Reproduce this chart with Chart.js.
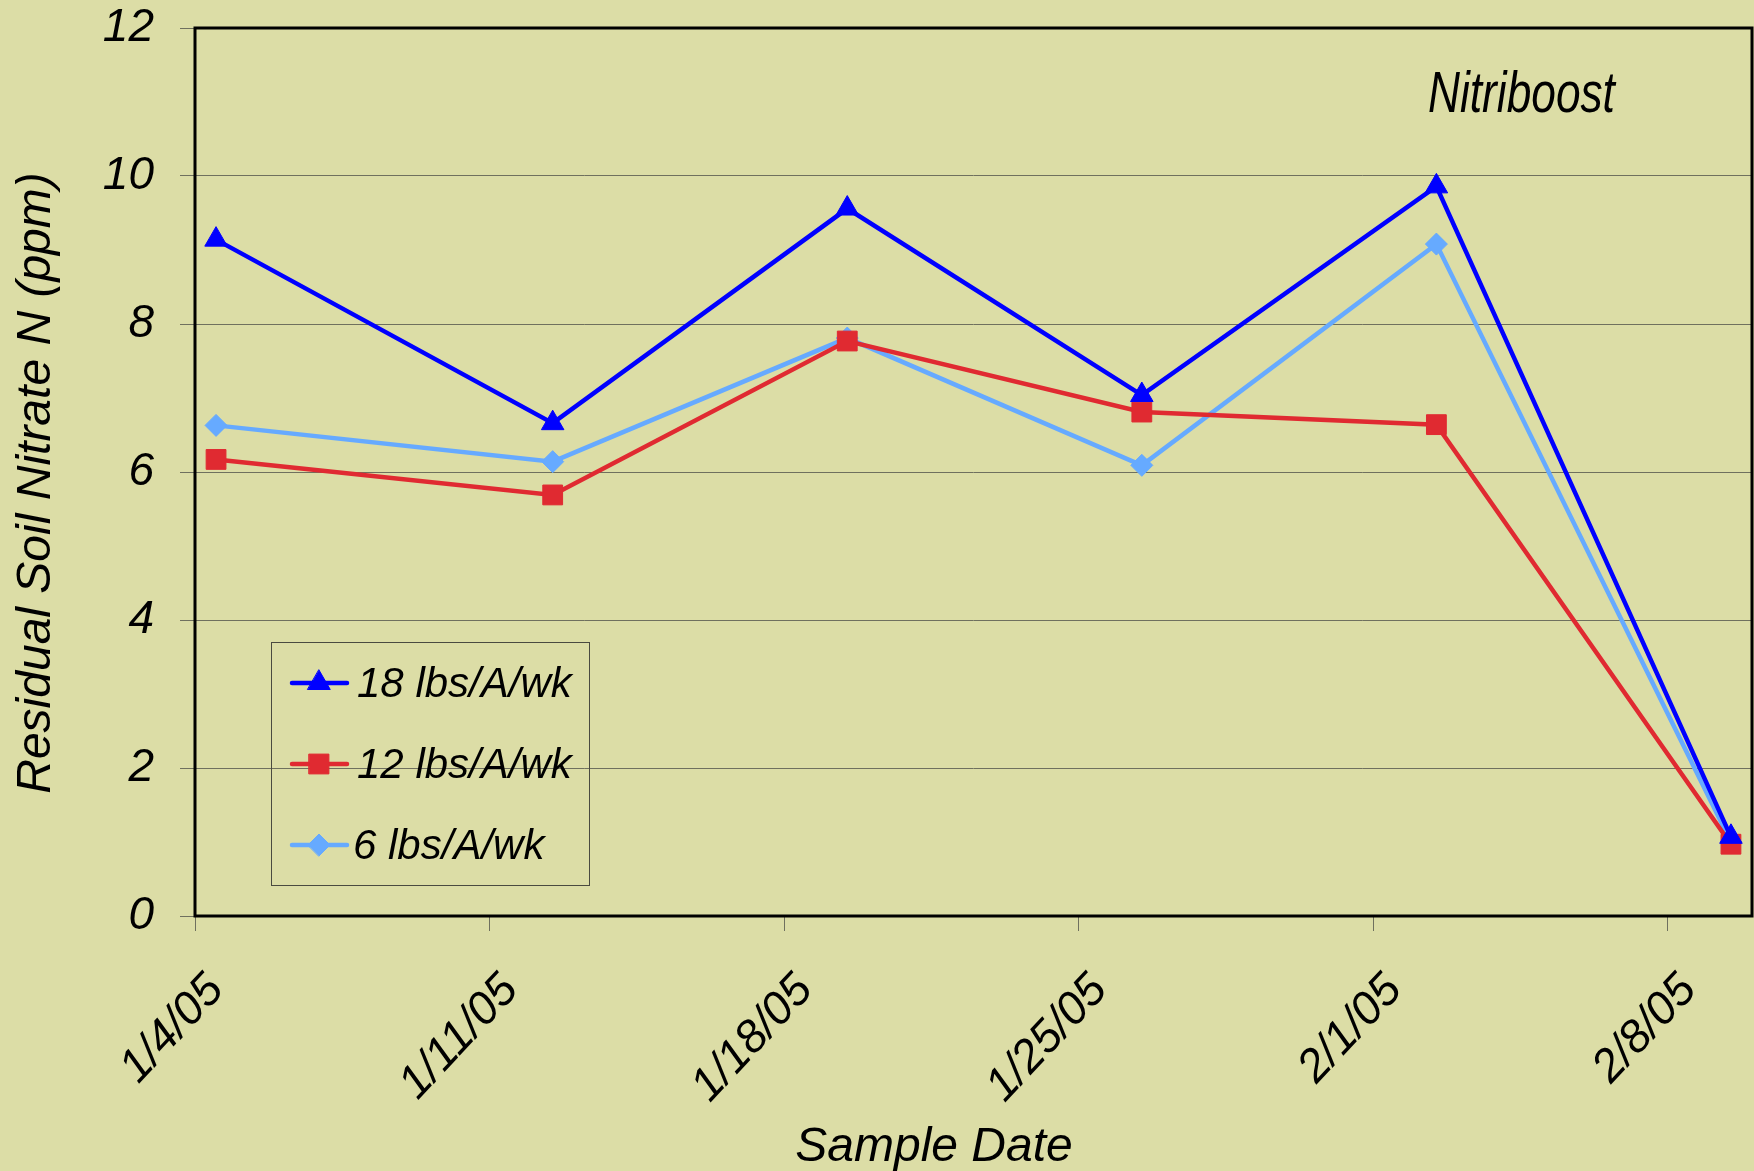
<!DOCTYPE html>
<html>
<head>
<meta charset="utf-8">
<title>Residual Soil Nitrate N - Nitriboost</title>
<script src="https://cdn.jsdelivr.net/npm/chart.js@4.4.1/dist/chart.umd.min.js"></script>
<style>
    html, body { margin: 0; padding: 0; background: #DCDDA6; }
    #wrap { width: 1754px; height: 1171px; }
</style>
</head>
<body>
<div id="wrap"><canvas id="nitrate-chart" width="1754" height="1171"></canvas></div>
<script>
    // ── data ────────────────────────────────────────────────
    const AXIS_START = [2005, 0, 4];      // 1/4/05, first day on the axis
    const AXIS_DAYS = 37;                 // 1/4/05 .. 2/9/05, one slot per day
    const TICK_STEP_DAYS = 7;

    const sampleDates = ['2005-01-04', '2005-01-12', '2005-01-19', '2005-01-26', '2005-02-02', '2005-02-09'];
    const seriesNames = ['18 lbs/A/wk', '12 lbs/A/wk', '6 lbs/A/wk'];
    const rate18 = [9.14, 6.66, 9.56, 7.04, 9.86, 1.07];
    const rate12 = [6.17, 5.69, 7.77, 6.81, 6.64, 0.97];
    const rate6 = [6.63, 6.14, 7.81, 6.09, 9.08, 1.00];
    const yTickValues = [0, 2, 4, 6, 8, 10, 12];

    const noteText = 'Nitriboost';
    const xTitle = 'Sample Date';
    const yTitle = 'Residual Soil Nitrate N (ppm)';

    // ── helpers ─────────────────────────────────────────────
    const DAY_MS = 86400000;
    const startUtc = Date.UTC(AXIS_START[0], AXIS_START[1], AXIS_START[2]);

    // Excel date axis: each point sits in the middle of its day slot
    function dayPosition(iso) {
        const p = iso.split('-').map(Number);
        return (Date.UTC(p[0], p[1] - 1, p[2]) - startUtc) / DAY_MS + 0.5;
    }

    function dayLabel(offset) {
        const d = new Date(startUtc + offset * DAY_MS);
        return (d.getUTCMonth() + 1) + '/' + d.getUTCDate() + '/' + String(d.getUTCFullYear()).slice(2);
    }

    function toPoints(values) {
        return values.map(function (v, i) { return { x: dayPosition(sampleDates[i]), y: v }; });
    }

    const SANS = "'Liberation Sans', Arial, sans-serif";
    const GRID = '#6f705e';

    // ── plugins ─────────────────────────────────────────────
    const backdrop = {
        id: 'backdrop',
        beforeDraw(chart) {
            const c = chart.ctx;
            c.save();
            c.fillStyle = '#DCDDA6';
            c.fillRect(0, 0, chart.width, chart.height);
            c.restore();
        },
        beforeDatasetsDraw(chart) {
            const a = chart.chartArea, c = chart.ctx;
            c.save();
            c.strokeStyle = '#000';
            c.lineWidth = 3;
            c.strokeRect(a.left, a.top, a.right - a.left, a.bottom - a.top);
            c.restore();
        }
    };

    // legend box inside the plot, like the Excel original
    const boxLegend = {
        id: 'boxLegend',
        afterDatasetsDraw(chart) {
            const a = chart.chartArea, c = chart.ctx;
            const left = a.left + 76, top = a.top + 614, w = 318, h = 243;
            c.save();
            c.strokeStyle = '#4a4a40';
            c.lineWidth = 1;
            c.strokeRect(left + 0.5, top + 0.5, w, h);
            c.font = 'italic 42px ' + SANS;
            c.textBaseline = 'middle';
            chart.data.datasets.forEach(function (ds, i) {
                const y = top + 41 + i * 81;
                c.strokeStyle = ds.borderColor;
                c.lineWidth = ds.borderWidth;
                c.lineCap = 'round';
                c.beginPath();
                c.moveTo(left + 21, y);
                c.lineTo(left + 76, y);
                c.stroke();
                c.fillStyle = ds.pointBackgroundColor;
                c.strokeStyle = ds.pointBorderColor;
                c.lineWidth = ds.pointBorderWidth;
                Chart.helpers.drawPoint(c, {
                    pointStyle: ds.pointStyle, radius: ds.pointRadius, borderWidth: ds.pointBorderWidth
                }, left + 48, y);
                c.fillStyle = '#000';
                c.fillText(ds.label, left + (i === 2 ? 82 : 86), y + 2);
            });
            c.restore();
        }
    };

    // condensed italic note + axis titles placed like the original
    const texts = {
        id: 'texts',
        afterDraw(chart) {
            const a = chart.chartArea, c = chart.ctx;
            c.save();
            c.fillStyle = '#000';
            c.textBaseline = 'alphabetic';
            c.translate(a.left + 1233, a.top + 84);
            c.scale(0.835, 1.09);
            c.font = 'italic 53px ' + SANS;
            c.fillText(noteText, 0, 0);
            c.restore();

            c.save();
            c.fillStyle = '#000';
            c.textAlign = 'center';
            c.textBaseline = 'alphabetic';
            c.font = 'italic 48px ' + SANS;
            c.fillText(xTitle, 934, 1161);
            c.translate(37, 483);
            c.rotate(-Math.PI / 2);
            c.textBaseline = 'middle';
            c.fillText(yTitle, 0, 0);
            c.restore();
        }
    };

    // ── chart ───────────────────────────────────────────────
    const ctx = document.getElementById('nitrate-chart').getContext('2d');

    new Chart(ctx, {
        type: 'line',
        data: {
            datasets: [{
                label: seriesNames[0],
                data: toPoints(rate18),
                borderColor: '#0000FF',
                backgroundColor: '#0000FF',
                borderWidth: 4.5,
                pointStyle: 'triangle',
                pointRadius: 13,
                pointBackgroundColor: '#0000FF',
                pointBorderColor: '#0000FF',
                pointBorderWidth: 1
            }, {
                label: seriesNames[1],
                data: toPoints(rate12),
                borderColor: '#E02A31',
                backgroundColor: '#E02A31',
                borderWidth: 4.5,
                pointStyle: 'rect',
                pointRadius: 14,
                pointBackgroundColor: '#E02A31',
                pointBorderColor: '#E02A31',
                pointBorderWidth: 1
            }, {
                label: seriesNames[2],
                data: toPoints(rate6),
                borderColor: '#66AAFF',
                backgroundColor: '#66AAFF',
                borderWidth: 4.5,
                pointStyle: 'rectRot',
                pointRadius: 11,
                pointBackgroundColor: '#66AAFF',
                pointBorderColor: '#66AAFF',
                pointBorderWidth: 1
            }]
        },
        options: {
            responsive: false,
            animation: false,
            events: [],
            layout: { autoPadding: false, padding: { top: 28, right: 2, left: 0, bottom: 0 } },
            plugins: {
                legend: { display: false },
                tooltip: { enabled: false }
            },
            scales: {
                x: {
                    type: 'linear',
                    min: 0,
                    max: AXIS_DAYS,
                    afterFit: function (scale) {
                        scale.height = 255;
                        scale.paddingLeft = 0;
                        scale.paddingRight = 0;
                    },
                    border: { display: false },
                    grid: { drawOnChartArea: false, drawTicks: true, tickLength: 15, color: GRID },
                    ticks: {
                        stepSize: TICK_STEP_DAYS,
                        includeBounds: false,
                        autoSkip: false,
                        minRotation: 47,
                        maxRotation: 47,
                        padding: 34,
                        labelOffset: 21,
                        color: '#000',
                        font: { family: SANS, style: 'italic', size: 46, lineHeight: 1.1 },
                        callback: function (value) { return dayLabel(value); }
                    },
                    title: { display: false }
                },
                y: {
                    min: yTickValues[0],
                    max: yTickValues[yTickValues.length - 1],
                    afterFit: function (scale) {
                        scale.width = 195;
                        scale.paddingTop = 0;
                        scale.paddingBottom = 0;
                    },
                    afterBuildTicks: function (scale) {
                        scale.ticks = yTickValues.map(function (v) { return { value: v }; });
                    },
                    border: { display: false },
                    grid: { color: GRID, lineWidth: 1, tickLength: 15 },
                    ticks: {
                        padding: 26,
                        color: '#000',
                        font: { family: SANS, style: 'italic', size: 46 }
                    },
                    title: { display: false }
                }
            }
        },
        plugins: [backdrop, boxLegend, texts]
    });
</script>
</body>
</html>
